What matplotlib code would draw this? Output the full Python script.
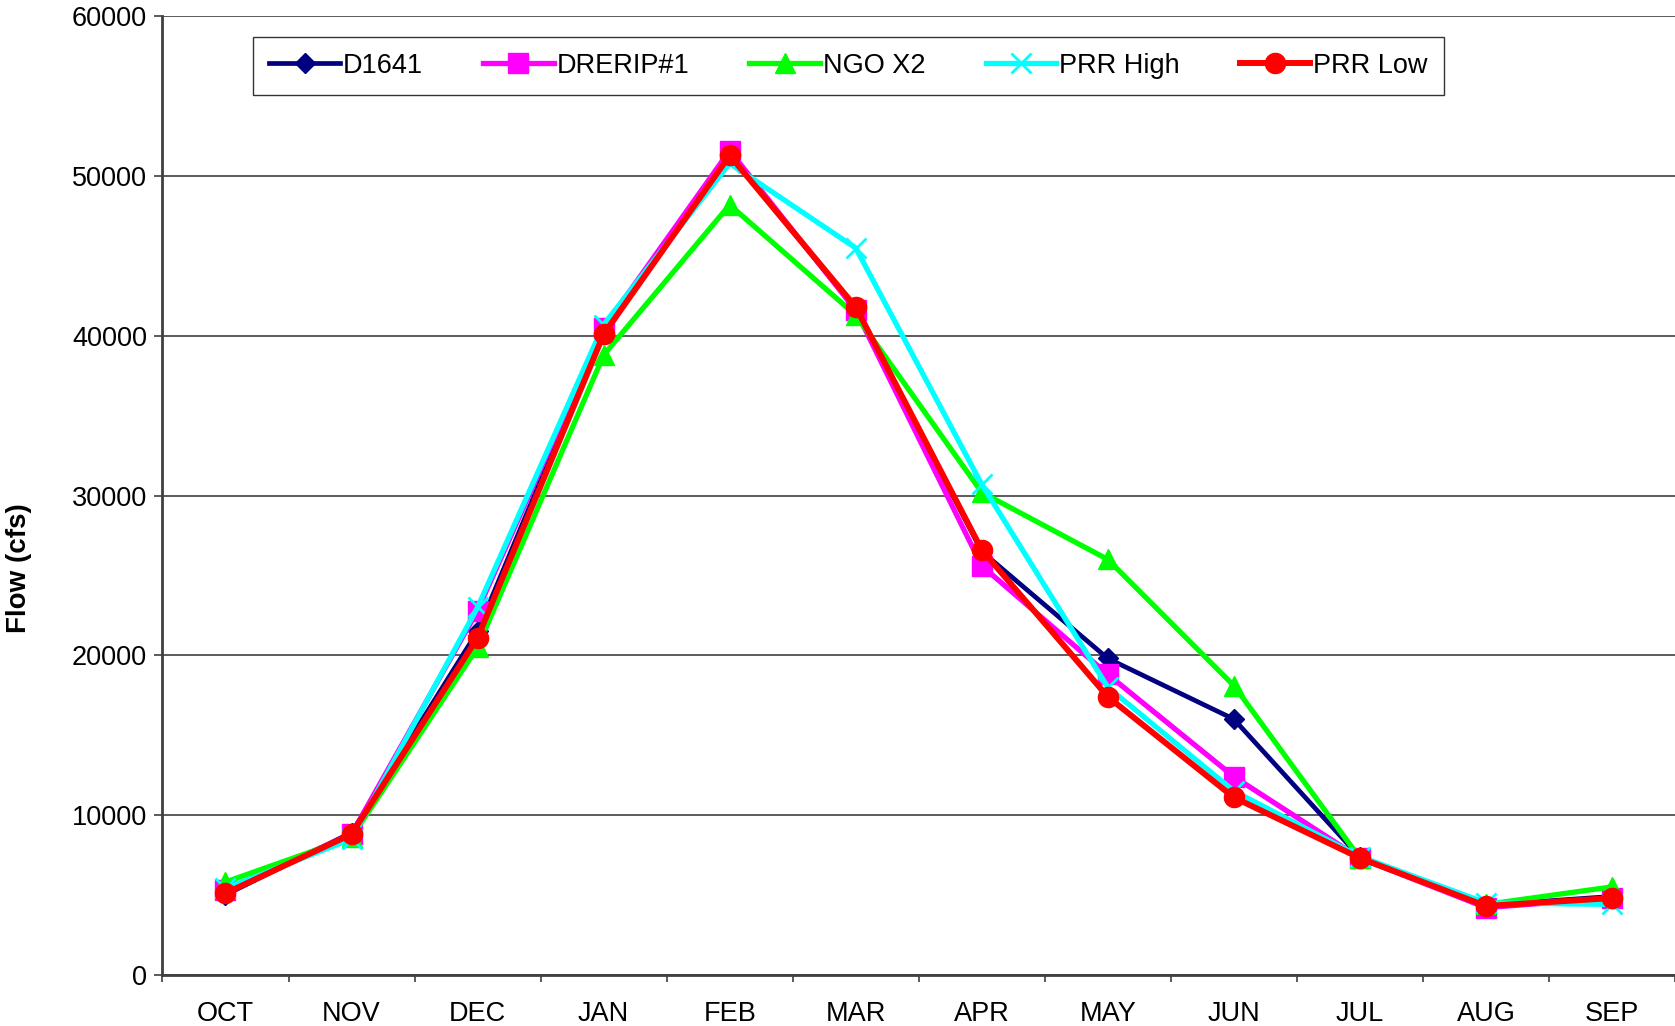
import numpy as np
import matplotlib
matplotlib.use("Agg")
import matplotlib.pyplot as plt

plt.rcParams['font.family'] = ['Liberation Sans', 'DejaVu Sans']

# Data
months = ['OCT', 'NOV', 'DEC', 'JAN', 'FEB', 'MAR', 'APR', 'MAY', 'JUN', 'JUL', 'AUG', 'SEP']
d1641 = [5000, 8900, 21500, 40400, 51400, 41700, 26500, 19800, 16000, 7350, 4350, 4900]
drerip = [5300, 8800, 22800, 40500, 51600, 41600, 25600, 18800, 12400, 7300, 4200, 4800]
ngo_x2 = [5800, 8600, 20500, 38800, 48200, 41300, 30200, 26000, 18100, 7300, 4400, 5500]
prr_high = [5400, 8500, 23000, 40700, 50800, 45500, 30700, 18000, 11500, 7400, 4500, 4400]
prr_low = [5100, 8800, 21100, 40100, 51300, 41800, 26600, 17400, 11100, 7300, 4300, 4800]

# name, values, colour, marker, marker size, line width
series = [
    ('D1641', d1641, '#000080', 'D', 10, 3.4),
    ('DRERIP#1', drerip, '#ff00ff', 's', 14, 3.8),
    ('NGO X2', ngo_x2, '#00ff00', '^', 15, 3.8),
    ('PRR High', prr_high, '#00ffff', 'x', 14, 3.8),
    ('PRR Low', prr_low, '#ff0000', 'o', 14.5, 4.3),
]

x = np.arange(len(months)) + 0.5

fig = plt.figure(figsize=(16.75, 10.26), dpi=100)
ax = fig.add_axes([0.097, 0.050, 0.903, 0.934])

for name, vals, col, mk, ms, lw in series:
    ax.plot(x, vals, color=col, marker=mk, markersize=ms, linewidth=lw,
            markeredgewidth=2 if mk == 'x' else 1, markeredgecolor=col, label=name)

ax.set_xlim(0, 12)
ax.set_ylim(0, 60000)
ax.set_yticks(np.arange(0, 60001, 10000))
ax.set_xticks(np.arange(0, 13))
ax.set_xticklabels([])
ax.set_xticks(x, minor=True)
ax.set_xticklabels(months, minor=True)
ax.tick_params(axis='x', which='minor', length=0, pad=19, labelsize=19.5)
ax.tick_params(axis='x', which='major', length=5, width=1.2, color='#404040', direction='out')
ax.tick_params(axis='y', length=6, width=1.2, color='#404040', labelsize=19.5, pad=5)

ax.yaxis.grid(True, color='#404040', linewidth=1.2)
ax.set_axisbelow(True)
for s in ['top', 'right']:
    ax.spines[s].set_visible(False)
for s in ['left', 'bottom']:
    ax.spines[s].set_color('#404040')
    ax.spines[s].set_linewidth(2)

ax.set_ylabel('Flow (cfs)', fontsize=20, fontweight='bold',
              family=['Liberation Sans Narrow', 'Liberation Sans', 'DejaVu Sans'])
ax.yaxis.set_label_coords(-0.086, 0.424)

leg = ax.legend(loc='upper left', bbox_to_anchor=(0.06, 0.979, 0.787, 0.0), mode='expand',
                ncol=5, fontsize=19.5, frameon=True, fancybox=False, handlelength=2.6,
                handletextpad=0.1, borderpad=0.6, columnspacing=1.0, borderaxespad=0)
leg.get_frame().set_edgecolor('black')
leg.get_frame().set_linewidth(1.0)

fig.savefig('out.png', dpi=100)
